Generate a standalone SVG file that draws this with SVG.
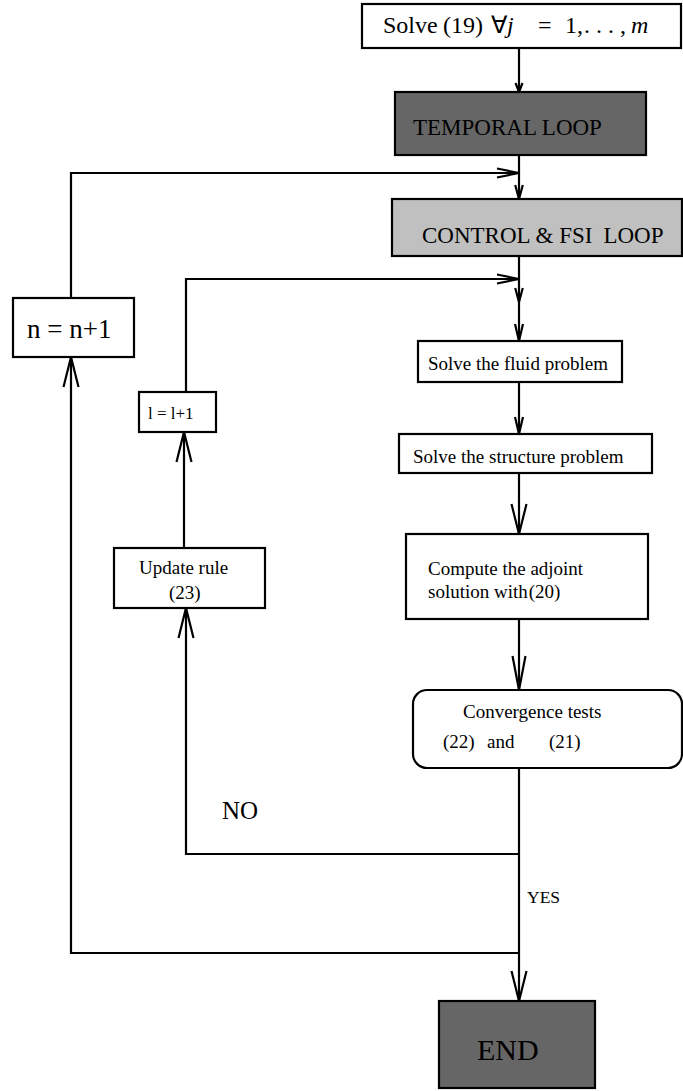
<svg xmlns="http://www.w3.org/2000/svg" width="683" height="1091" viewBox="0 0 683 1091">
<style>
.box{stroke:#000;stroke-width:2.2}
.w{fill:#fff}
.dark{fill:#666666}
.light{fill:#c0c0c0}
text{font-family:"Liberation Serif","Times New Roman",serif;fill:#000}
.c{fill:none;stroke:#000;stroke-width:2.2}
.it{font-style:italic}
</style>
<defs>
<marker id="a9" markerUnits="userSpaceOnUse" orient="auto" overflow="visible" refX="0" refY="0"><path d="M-9,-3.5 L0,0 L-9,3.5" fill="none" stroke="#000" stroke-width="2.2" stroke-linejoin="round"/></marker>
<marker id="a14" markerUnits="userSpaceOnUse" orient="auto" overflow="visible" refX="0" refY="0"><path d="M-14,-3.8 L0,0 L-14,3.8" fill="none" stroke="#000" stroke-width="2.2" stroke-linejoin="round"/></marker>
<marker id="a18" markerUnits="userSpaceOnUse" orient="auto" overflow="visible" refX="0" refY="0"><path d="M-17,-4 L0,0 L-17,4" fill="none" stroke="#000" stroke-width="2.2" stroke-linejoin="round"/></marker>
<marker id="a22" markerUnits="userSpaceOnUse" orient="auto" overflow="visible" refX="0" refY="0"><path d="M-22,-4.5 L0,0 L-22,4.5" fill="none" stroke="#000" stroke-width="2.2" stroke-linejoin="round"/></marker>
<marker id="a30" markerUnits="userSpaceOnUse" orient="auto" overflow="visible" refX="0" refY="0"><path d="M-30,-7.5 L0,0 L-30,7.5" fill="none" stroke="#000" stroke-width="2.2" stroke-linejoin="round"/></marker>
<marker id="a34" markerUnits="userSpaceOnUse" orient="auto" overflow="visible" refX="0" refY="0"><path d="M-34,-6.5 L0,0 L-34,6.5" fill="none" stroke="#000" stroke-width="2.2" stroke-linejoin="round"/></marker>
</defs>
<rect width="683" height="1091" fill="#fff"/>

<g id="connectors">
<polyline class="c" points="519,48 519,92" marker-end="url(#a9)"/>
<polyline class="c" points="519,155 519,199" marker-end="url(#a14)"/>
<polyline class="c" points="71,298 71,173 519,173" marker-end="url(#a22)"/>
<polyline class="c" points="519,256 519,302" marker-end="url(#a14)"/>
<polyline class="c" points="519,302 519,341" marker-end="url(#a18)"/>
<polyline class="c" points="186,392 186,279 519,279" marker-end="url(#a22)"/>
<polyline class="c" points="519,382 519,434" marker-end="url(#a18)"/>
<polyline class="c" points="519,473 519,534" marker-end="url(#a30)"/>
<polyline class="c" points="519,619 519,690" marker-end="url(#a34)"/>
<polyline class="c" points="519,768 519,1001" marker-end="url(#a30)"/>
<polyline class="c" points="519,854 186,854 186,608" marker-end="url(#a30)"/>
<polyline class="c" points="184,548 184,432" marker-end="url(#a30)"/>
<polyline class="c" points="519,953 71,953 71,357" marker-end="url(#a30)"/>
</g>

<g id="solve19">
<rect class="box w" x="362" y="4" width="319" height="44"/>
<text y="33" font-size="24"><tspan x="383">Solve</tspan><tspan x="443">(19)</tspan><tspan x="491">∀</tspan><tspan x="507" class="it">j</tspan><tspan x="538">=</tspan><tspan x="565">1,</tspan><tspan x="584">. . . ,</tspan><tspan x="631" class="it">m</tspan></text>
</g>

<g id="temporal">
<rect class="box dark" x="395" y="92" width="251" height="63"/>
<text x="413" y="135" font-size="23">TEMPORAL LOOP</text>
</g>

<g id="control">
<rect class="box light" x="392" y="199" width="290" height="57"/>
<text x="422" y="243" font-size="23">CONTROL &amp; FSI<tspan dx="11">LOOP</tspan></text>
</g>

<g id="n_update">
<rect class="box w" x="13" y="298" width="121" height="59"/>
<text x="27" y="338" font-size="27">n = n+1</text>
</g>

<g id="l_update">
<rect class="box w" x="139" y="392" width="77" height="40"/>
<text x="148" y="419" font-size="17">l = l+1</text>
</g>

<g id="update_rule">
<rect class="box w" x="114" y="548" width="151" height="60"/>
<text x="139" y="574" font-size="19">Update rule</text>
<text x="169" y="599" font-size="19">(23)</text>
</g>

<g id="fluid">
<rect class="box w" x="418" y="341" width="204" height="41"/>
<text x="428" y="370" font-size="19">Solve the fluid problem</text>
</g>

<g id="structure">
<rect class="box w" x="399" y="434" width="253" height="39"/>
<text x="413" y="463" font-size="19">Solve the structure problem</text>
</g>

<g id="adjoint">
<rect class="box w" x="406" y="534" width="242" height="85"/>
<text x="428" y="575" font-size="19">Compute the adjoint</text>
<text x="428" y="598" font-size="19">solution with<tspan dx="1">(20)</tspan></text>
</g>

<g id="convergence">
<rect class="box w" x="413" y="690" width="269" height="78" rx="14" ry="14"/>
<text x="463" y="718" font-size="19">Convergence tests</text>
<text y="748" font-size="19"><tspan x="443">(22)</tspan><tspan x="487">and</tspan><tspan x="549">(21)</tspan></text>
</g>

<g id="labels">
<text x="222" y="819" font-size="25">NO</text>
<text x="527" y="903" font-size="17.5">YES</text>
</g>

<g id="end">
<rect class="box dark" x="439" y="1001" width="156" height="87"/>
<text x="477" y="1060" font-size="30">END</text>
</g>
</svg>
